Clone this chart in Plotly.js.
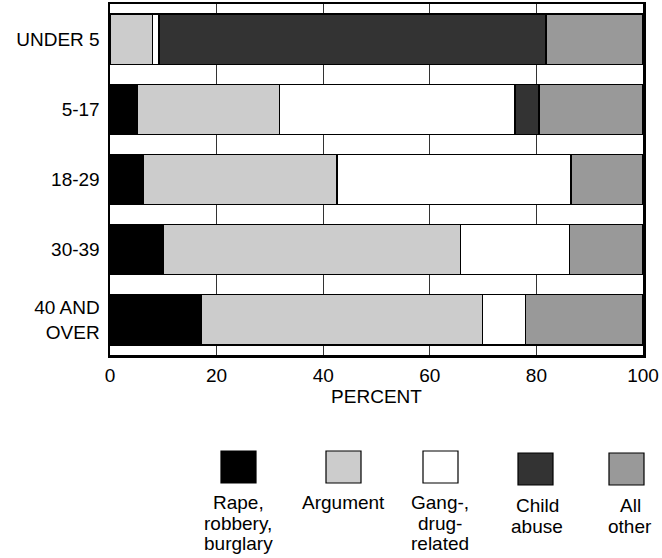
<!DOCTYPE html>
<html>
<head>
<meta charset="utf-8">
<script src="https://cdn.plot.ly/plotly-3.0.1.min.js"></script>
<style>html,body{margin:0;padding:0;background:#fff;}#chart{width:662px;height:558px;}</style>
</head>
<body>
<div id="chart"></div>
<script>
// Data
var categories = ["UNDER 5", "5-17", "18-29", "30-39", "40 AND<br>OVER"];
var rapeRobbery = [0, 5.1, 6.3, 10.1, 17.1];
var argument    = [7.9, 26.7, 36.3, 55.7, 52.8];
var gangDrug    = [1.3, 44.2, 43.9, 20.4, 8.0];
var childAbuse  = [72.6, 4.5, 0, 0, 0];
var allOther    = [18.2, 19.5, 13.5, 13.8, 22.1];
var seriesNames = ["Rape,<br>robbery,<br>burglary", "Argument", "Gang-,<br>drug-<br>related", "Child<br>abuse", "All<br>other"];
var seriesColors = ["#000000", "#cccccc", "#ffffff", "#333333", "#999999"];
var xTicks = [0, 20, 40, 60, 80, 100];

var seriesValues = [rapeRobbery, argument, gangDrug, childAbuse, allOther];
var font = "Liberation Sans, Arial, sans-serif";
var FS = 19;

var traces = seriesValues.map(function (vals, i) {
  return {
    type: "bar",
    orientation: "h",
    y: categories,
    x: vals,
    name: seriesNames[i].replace(/<br>/g, " "),
    marker: { color: seriesColors[i], line: { color: "#000", width: 1.2 } },
    hoverinfo: "x+name"
  };
});

// layout geometry helpers (pixel -> paper)
var W = 662, H = 558, mL = 110, mR = 19, mT = 4, mB = 203;
var pw = W - mL - mR, ph = H - mT - mB;
function px(x) { return (x - mL) / pw; }
function py(y) { return (H - mB - y) / ph; }

var sqLeft = [221, 326, 423, 518, 609];
var sqTop = [451, 451, 451, 453, 453];
var labelX = [238, 343, 440, 537, 630];
var labelFirstLine = [501, 501, 501, 504, 504];
var lineStep = 20.7;

var shapes = [], annotations = [];
for (var i = 0; i < seriesNames.length; i++) {
  shapes.push({
    type: "rect", xref: "paper", yref: "paper",
    x0: px(sqLeft[i]), x1: px(sqLeft[i] + 35),
    y0: py(sqTop[i]), y1: py(sqTop[i] + 32),
    fillcolor: seriesColors[i], line: { color: "#000", width: 1.2 }
  });
  var lines = seriesNames[i].split("<br>");
  for (var k = 0; k < lines.length; k++) {
    annotations.push({
      xref: "paper", yref: "paper",
      x: px(labelX[i]), y: py(labelFirstLine[i] + k * lineStep + 1.5),
      xanchor: "center", yanchor: "middle",
      text: lines[k], showarrow: false, align: "center",
      borderpad: 0,
      font: { family: font, size: FS, color: "#000" }
    });
  }
}

var layout = {
  width: W, height: H,
  margin: { l: mL, r: mR, t: mT, b: mB, pad: 0 },
  barmode: "stack",
  bargap: 0.285,
  showlegend: false,
  paper_bgcolor: "#fff",
  plot_bgcolor: "#fff",
  font: { family: font, size: FS, color: "#000" },
  xaxis: {
    range: [0, 100],
    tickvals: xTicks,
    ticktext: xTicks.map(String),
    showgrid: true, gridcolor: "#333", gridwidth: 1.3,
    zeroline: false,
    showline: true, linecolor: "#000", linewidth: 2.5, mirror: true,
    ticks: "",
    ticklabelstandoff: 2,
    tickfont: { family: font, size: FS },
    title: { text: "PERCENT", font: { family: font, size: FS }, standoff: 0 },
    fixedrange: true
  },
  yaxis: {
    autorange: "reversed",
    type: "category",
    showgrid: false, zeroline: false,
    showline: true, linecolor: "#000", linewidth: 2.5, mirror: true,
    ticks: "",
    ticklabelstandoff: 4,
    tickfont: { family: font, size: FS },
    fixedrange: true
  },
  shapes: shapes,
  annotations: annotations
};

Plotly.newPlot("chart", traces, layout, { displayModeBar: false, staticPlot: true });
</script>
</body>
</html>
